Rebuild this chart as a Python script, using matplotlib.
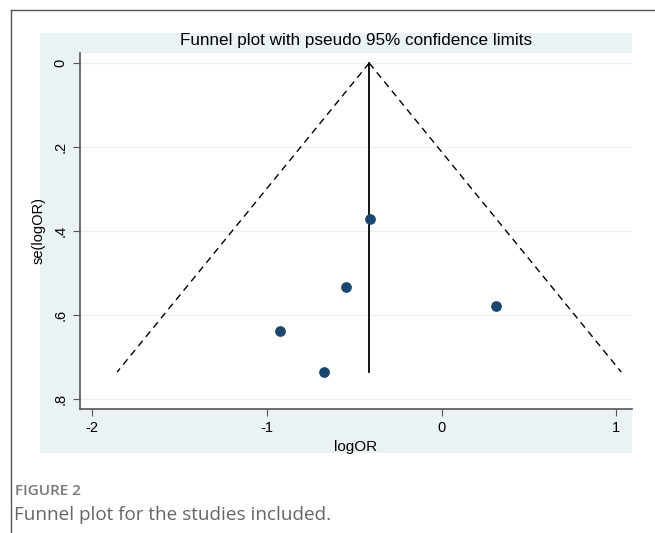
import numpy as np
import matplotlib
matplotlib.use("Agg")
import matplotlib.pyplot as plt
from matplotlib.patches import Rectangle
from matplotlib.lines import Line2D

plt.rcParams["font.family"] = ["Liberation Sans", "DejaVu Sans"]

# study estimates
log_or = [-0.41, -0.548, 0.309, -0.925, -0.672]
se_log_or = [0.372, 0.533, 0.578, 0.639, 0.736]

pooled = -0.414
se_max = max(se_log_or)

x_ticks = [-2, -1, 0, 1]
y_ticks = [0, 0.2, 0.4, 0.6, 0.8]
y_tick_labels = ["0", ".2", ".4", ".6", ".8"]

stata_bg = "#EAF2F3"
marker_col = "#1A476F"

fig = plt.figure(figsize=(6.55, 5.33), dpi=100)

# page frame lines
fig.add_artist(Line2D([11 / 655, 11 / 655], [0, 1 - 10 / 533], color="#555555", lw=1))
fig.add_artist(Line2D([11 / 655, 1], [1 - 10 / 533, 1 - 10 / 533], color="#555555", lw=1))

# stata graph region
fig.add_artist(Rectangle((40 / 655, 1 - 453 / 533), 592 / 655, 420 / 533,
                         facecolor=stata_bg, edgecolor="none", zorder=0))

ax = fig.add_axes([80 / 655, 1 - 409 / 533, 552 / 655, 356 / 533])
ax.set_facecolor("white")

# confidence limits
se_line = np.array([0, se_max])
ax.plot(pooled - 1.96 * se_line, se_line, color="black", lw=1, ls=(0, (5, 3.6)))
ax.plot(pooled + 1.96 * se_line, se_line, color="black", lw=1, ls=(0, (5, 3.6)))
ax.plot([pooled, pooled], se_line, color="black", lw=1.3)

ax.scatter(log_or, se_log_or, s=45, color=marker_col, zorder=3)

ax.set_xlim(-2.069, 1.09)
ax.set_ylim(0.824, -0.024)

ax.set_xticks(x_ticks)
ax.set_xticklabels(["-2", "-1", "0", "1"], fontsize=10.5)
ax.set_yticks(y_ticks)
ax.set_yticklabels(y_tick_labels, fontsize=10.5, rotation=90, va="center")

for yv in y_ticks:
    ax.axhline(yv, color=stata_bg, lw=1, zorder=0)

for side in ["top", "right"]:
    ax.spines[side].set_visible(False)
ax.spines["left"].set_color("#555555")
ax.spines["bottom"].set_color("#555555")
ax.spines["left"].set_linewidth(1.2)
ax.spines["bottom"].set_linewidth(1.2)
ax.tick_params(length=5, color="#555555", pad=4)

ax.set_xlabel("logOR", fontsize=11, labelpad=3)
ax.set_ylabel("se(logOR)", fontsize=10.5, labelpad=6)

fig.text(356 / 655, 1 - 41 / 533, "Funnel plot with pseudo 95% confidence limits",
         ha="center", va="center", fontsize=12.3)

fig.text(15 / 655, 1 - 491 / 533, "FIGURE 2", ha="left", va="center",
         fontsize=11, fontweight="semibold", color="#777777",
         family=["Open Sans", "DejaVu Sans"])
fig.text(14 / 655, 1 - 515 / 533, "Funnel plot for the studies included.", ha="left",
         va="center", fontsize=13.6, color="#666666", family=["Open Sans", "DejaVu Sans"])

fig.savefig("out.png", dpi=100)
